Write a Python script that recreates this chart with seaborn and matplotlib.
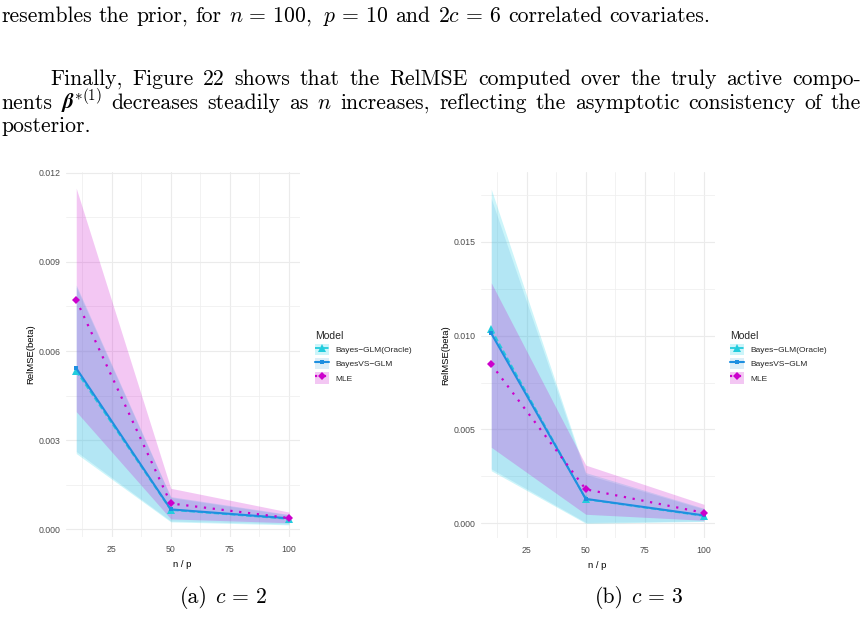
import matplotlib
matplotlib.use("Agg")
import numpy as np
import pandas as pd
import matplotlib.pyplot as plt
import seaborn as sns
from matplotlib.lines import Line2D
from matplotlib.patches import Patch
from matplotlib.legend_handler import HandlerTuple
from matplotlib.ticker import FixedLocator, FixedFormatter

# ---------------- data ----------------
n_over_p = [10, 50, 100]
models = ["Bayes\u2212GLM(Oracle)", "BayesVS\u2212GLM", "MLE"]

# panel (a): c = 2
a_oracle_mean = [0.00533, 0.00065, 0.00035]
a_oracle_lo = [0.00255, 0.00025, 0.00015]
a_oracle_hi = [0.00822, 0.00110, 0.00050]
a_vs_mean = [0.00542, 0.00067, 0.00037]
a_vs_lo = [0.00262, 0.00028, 0.00018]
a_vs_hi = [0.00815, 0.00107, 0.00048]
a_mle_mean = [0.00772, 0.00087, 0.00038]
a_mle_lo = [0.00396, 0.00035, 0.00022]
a_mle_hi = [0.01148, 0.00138, 0.00058]

# panel (b): c = 3
b_oracle_mean = [0.01033, 0.00128, 0.00039]
b_oracle_lo = [0.00280, 0.00000, 0.00010]
b_oracle_hi = [0.01780, 0.00270, 0.00080]
b_vs_mean = [0.01012, 0.00130, 0.00042]
b_vs_lo = [0.00290, 0.00005, 0.00012]
b_vs_hi = [0.01730, 0.00260, 0.00076]
b_mle_mean = [0.00847, 0.00181, 0.00056]
b_mle_lo = [0.00405, 0.00048, 0.00016]
b_mle_hi = [0.01281, 0.00310, 0.00101]

x_ticks = [25, 50, 75, 100]
x_tick_labels = ["25", "50", "75", "100"]
a_yticks = [0.000, 0.003, 0.006, 0.009, 0.012]
a_ytick_labels = ["0.000", "0.003", "0.006", "0.009", "0.012"]
b_yticks = [0.000, 0.005, 0.010, 0.015]
b_ytick_labels = ["0.000", "0.005", "0.010", "0.015"]

# ---------------- styles ----------------
line_colors = {models[0]: "#22CCDD", models[1]: "#1E8FE0", models[2]: "#CC00CC"}
fill_colors = {models[0]: "#00CDE6", models[1]: "#50AADC", models[2]: "#CC00CC"}
fill_alpha = {models[0]: 0.2, models[1]: 0.2, models[2]: 0.22}
marker_map = {models[0]: "^", models[1]: "s", models[2]: "D"}
dash_map = {models[0]: (3, 1.5), models[1]: "", models[2]: (1, 3)}
mpl_ls = {models[0]: (0, (3, 1.5)), models[1]: "-", models[2]: (0, (1, 3))}
line_w = {models[0]: 1.3, models[1]: 1.5, models[2]: 1.6}
mark_s = {models[0]: 5.5, models[1]: 2.4, models[2]: 4.0}
zord = {models[0]: 3, models[1]: 4, models[2]: 5}

sns.set_theme(style="white")
plt.rcParams["font.family"] = ["Liberation Sans", "DejaVu Sans"]
plt.rcParams["mathtext.fontset"] = "cm"

W, H = 862, 633
fig = plt.figure(figsize=(W / 100, H / 100), dpi=100)
fig.patch.set_facecolor("white")


def rect(x0, y0, x1, y1):
    return [x0 / W, 1 - y1 / H, (x1 - x0) / W, (y1 - y0) / H]


def draw_panel(ax, means, los, his, yticks, ylabels, ylim, yminor):
    for m, lo, hi in zip(models, los, his):
        ax.fill_between(n_over_p, lo, hi, color=fill_colors[m],
                        alpha=fill_alpha[m], lw=0, zorder=1)
    df = pd.DataFrame({
        "n/p": n_over_p * 3,
        "RelMSE": [v for mm in means for v in mm],
        "Model": np.repeat(models, len(n_over_p)),
    })
    sns.lineplot(data=df, x="n/p", y="RelMSE", hue="Model", style="Model",
                 hue_order=models, style_order=models, palette=line_colors,
                 markers=marker_map, dashes=dash_map, ax=ax, legend=False,
                 estimator=None)
    hex2model = {matplotlib.colors.to_hex(c): m for m, c in line_colors.items()}
    for line in ax.lines:
        m = hex2model.get(matplotlib.colors.to_hex(line.get_color()))
        if m is None:
            continue
        line.set_linewidth(line_w[m])
        line.set_markersize(mark_s[m])
        line.set_markeredgewidth(0)
        line.set_markerfacecolor(line_colors[m])
        line.set_zorder(zord[m])
    ax.set_xlim(5.5, 104.5)
    ax.set_ylim(*ylim)
    ax.xaxis.set_major_locator(FixedLocator(x_ticks))
    ax.xaxis.set_major_formatter(FixedFormatter(x_tick_labels))
    ax.xaxis.set_minor_locator(FixedLocator([12.5, 37.5, 62.5, 87.5]))
    ax.yaxis.set_major_locator(FixedLocator(yticks))
    ax.yaxis.set_major_formatter(FixedFormatter(ylabels))
    ax.yaxis.set_minor_locator(FixedLocator(yminor))
    ax.set_axisbelow(True)
    ax.grid(which="major", color="#EBEBEB", lw=0.8)
    ax.grid(which="minor", color="#EFEFEF", lw=0.55)
    for s in ax.spines.values():
        s.set_visible(False)
    ax.tick_params(which="both", length=0, labelsize=6.3, labelcolor="#4D4D4D")
    ax.tick_params(axis="y", pad=3.8)
    ax.tick_params(axis="x", pad=5.5)
    ax.set_ylabel("RelMSE(beta)", fontsize=6.8, color="black")
    ax.set_xlabel("n / p", fontsize=6.8, color="black")
    ax.yaxis.set_label_coords(-0.13, 0.5)
    ax.xaxis.set_label_coords(0.5, -0.062)


def add_legend(x_px, y_px):
    handles = []
    for m in models:
        patch = Patch(facecolor=fill_colors[m], alpha=fill_alpha[m], edgecolor="none")
        ln = Line2D([], [], color=line_colors[m], lw=line_w[m], ls=mpl_ls[m],
                    marker=marker_map[m], markersize=mark_s[m], markeredgewidth=0)
        handles.append((patch, ln))
    fig.legend(handles, models, loc="upper left",
               bbox_to_anchor=(x_px / W, 1 - y_px / H), frameon=False,
               title="Model", title_fontsize=7.5, fontsize=6,
               handlelength=1.7, handleheight=1.7, handletextpad=0.7,
               labelspacing=0.35, borderpad=0, borderaxespad=0,
               handler_map={tuple: HandlerTuple(ndivide=1)}, alignment="left")


ax1 = fig.add_axes(rect(65.6, 172, 299.6, 537))
draw_panel(ax1, [a_oracle_mean, a_vs_mean, a_mle_mean],
           [a_oracle_lo, a_vs_lo, a_mle_lo], [a_oracle_hi, a_vs_hi, a_mle_hi],
           a_yticks, a_ytick_labels, (-0.000259, 0.012024),
           [0.0015, 0.0045, 0.0075, 0.0105])
add_legend(315, 331)

ax2 = fig.add_axes(rect(480.6, 172, 714.6, 538))
draw_panel(ax2, [b_oracle_mean, b_vs_mean, b_mle_mean],
           [b_oracle_lo, b_vs_lo, b_mle_lo], [b_oracle_hi, b_vs_hi, b_mle_hi],
           b_yticks, b_ytick_labels, (-0.000783, 0.018713),
           [0.0025, 0.0075, 0.0125, 0.0175])
add_legend(730, 331)

# ---------------- page text (LaTeX-like) ----------------
TEXT_FONT = "cmr10"
renderer = fig.canvas.get_renderer()
fs = 14.5


def make_words(words, y):
    return [fig.text(0, 1 - y / H, w, fontfamily=TEXT_FONT, fontsize=fs,
                     va="baseline", ha="left", color="black") for w in words]


def widths(ts):
    return [t.get_window_extent(renderer).width for t in ts]


line1 = ["resembles", "the", "prior,", "for", r"$n\,=\,100$,", r"$p\,=\,10$", "and",
         r"$2c\,=\,6$", "correlated", "covariates."]
t1 = make_words(line1, 22)
w1 = widths(t1)
total = sum(w1) + 0.333 * fs * 100 / 72 * (len(line1) - 1)
scale = (704 - 1) / total
fs = fs * scale
for t in t1:
    t.set_fontsize(fs)
w1 = widths(t1)
gap1 = 0.333 * fs * 100 / 72
x = 1
for i, (t, wd) in enumerate(zip(t1, w1)):
    t.set_x(x / W)
    x += wd + gap1 + (gap1 * 0.6 if i == 4 else 0)


def justify(words, y, x0, x1):
    ts = make_words(words, y)
    ws = widths(ts)
    gap = (x1 - x0 - sum(ws)) / (len(words) - 1)
    xx = x0
    for t, wd in zip(ts, ws):
        t.set_x(xx / W)
        xx += wd + gap
    return ts


def place(words, y, x0=None, xc=None):
    ts = make_words(words, y)
    ws = widths(ts)
    gap = 0.333 * fs * 100 / 72
    tot = sum(ws) + gap * (len(ws) - 1)
    xx = x0 if x0 is not None else xc - tot / 2
    for t, wd in zip(ts, ws):
        t.set_x(xx / W)
        xx += wd + gap
    return ts


line2 = "Finally, Figure 22 shows that the RelMSE computed over the truly active compo-".split()
justify(line2, 85, 50, 861)

beta = r"$\boldsymbol{\beta}^{*(1)}$"
try:
    tt = fig.text(0, 0, beta, fontfamily=TEXT_FONT, fontsize=fs)
    tt.get_window_extent(renderer)
    tt.remove()
except Exception:
    try:
        tt.remove()
    except Exception:
        pass
    beta = r"$\beta^{*(1)}$"

line3 = ["nents", beta, "decreases", "steadily", "as", "$n$", "increases,",
         "reflecting", "the", "asymptotic", "consistency", "of", "the"]
justify(line3, 109, 1, 861)
place(["posterior."], 132, x0=1)

place(["(a)", r"$c\,=\,2$"], 603, xc=223)
place(["(b)", r"$c\,=\,3$"], 603, xc=639)

fig.savefig("out.png", dpi=100, facecolor="white")
